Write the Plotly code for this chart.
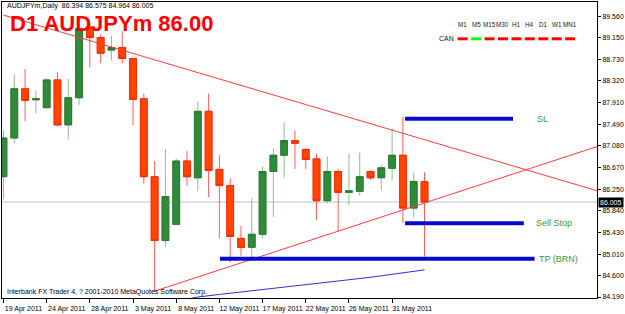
import plotly.graph_objects as go

# ---------------- data ----------------
tick_idx = [0, 4, 8, 12, 16, 20, 24, 28, 32, 36]
tick_dates = ["19 Apr 2011", "24 Apr 2011", "28 Apr 2011", "3 May 2011", "8 May 2011",
              "12 May 2011", "17 May 2011", "22 May 2011", "26 May 2011", "31 May 2011"]

bar_idx = list(range(40))
opens = [86.49, 87.23, 88.17, 87.96, 87.81, 88.34, 87.48, 88.00, 89.35, 89.15,
         88.91, 88.96, 88.75, 87.98, 86.49, 85.27, 85.58, 86.79, 86.47, 87.74,
         86.63, 86.32, 85.31, 85.14, 85.39, 86.59, 86.90, 87.18, 87.01, 86.83,
         86.03, 86.59, 86.19, 86.21, 86.59, 86.47, 86.65, 86.90, 85.89, 86.394]
highs = [87.38, 88.45, 88.55, 88.14, 88.37, 88.49, 88.36, 89.40, 89.42, 89.21,
         89.18, 89.27, 88.76, 88.08, 86.79, 87.02, 86.84, 86.98, 87.93, 88.08,
         86.90, 86.46, 85.55, 86.08, 86.69, 87.03, 87.53, 87.37, 87.04, 86.93,
         86.88, 86.63, 86.93, 86.95, 86.61, 86.72, 87.42, 87.64, 86.57, 86.575]
lows = [86.06, 87.13, 87.55, 87.70, 87.79, 87.45, 87.20, 87.86, 88.58, 88.66,
        88.71, 88.66, 87.48, 86.36, 84.30, 85.15, 85.57, 86.32, 86.21, 86.10,
        85.31, 84.86, 84.98, 84.90, 85.31, 85.72, 86.47, 86.64, 86.64, 85.66,
        85.98, 85.44, 85.95, 86.13, 86.43, 86.23, 86.42, 85.61, 85.71, 84.964]
closes = [87.23, 88.17, 87.95, 87.98, 88.34, 87.48, 88.00, 89.32, 89.15, 88.85,
          88.96, 88.75, 87.97, 86.49, 85.27, 86.11, 86.79, 86.49, 87.74, 86.61,
          86.32, 85.35, 85.14, 85.39, 86.59, 86.90, 87.18, 87.13, 86.82, 86.03,
          86.59, 86.19, 86.22, 86.49, 86.47, 86.66, 86.90, 85.89, 86.40, 86.005]

ma_idx = [17, 18, 20, 22, 24, 26, 28, 30, 32, 34, 36, 38, 39]
ma_vals = [84.15, 84.19, 84.239, 84.284, 84.332, 84.379, 84.426, 84.473, 84.52,
           84.567, 84.624, 84.681, 84.709]

price_ticks = [84.19, 84.60, 85.01, 85.43, 85.84, 86.25, 86.67, 87.08, 87.49,
               87.91, 88.32, 88.73, 89.15, 89.56]
current_price = 86.005

down_trend_idx = [0.0, 55.0]
down_trend_px = [89.58, 86.22]
up_trend_idx = [14.0, 55.0]
up_trend_px = [84.303, 87.067]

level_names = ["SL", "Sell Stop", "TP (BRN)"]
level_prices = [87.60, 85.60, 84.92]
level_start = [37.2, 37.2, 20.05]
level_end = [47.2, 48.2, 49.2]
level_label_x = [49.2, 49.1, 49.45]

tf_labels = ["M1", "M5", "M15", "M30", "H1", "H4", "D1", "W1", "MN1"]
tf_colors = ["#ff0000", "#00ff00", "#ff0000", "#ff0000", "#ff0000",
             "#ff0000", "#ff0000", "#ff0000", "#ff0000"]

info_text = "AUDJPYm,Daily  86.394 86.575 84.964 86.005"
title_text = "D1 AUDJPYm 86.00"
copyright_text = "Interbank FX Trader 4, ? 2001-2010 MetaQuotes Software Corp."

# ---------------- figure ----------------
W, H = 625, 314
ML, MR, MT, MB = 1, 26, 2, 12
PW, PH = W - ML - MR, H - MT - MB
FONT = "Liberation Sans, Arial, sans-serif"


def px_x(x):
    return (x - ML) / PW


def px_y(y):
    return 1 - (y - MT) / PH


fig = go.Figure()

# current price line
fig.add_shape(type="line", xref="paper", x0=0, x1=1, yref="y",
              y0=current_price, y1=current_price,
              line=dict(color="#c0c4c8", width=1), layer="below")

# wicks
fig.add_trace(go.Candlestick(
    x=bar_idx, open=opens, high=highs, low=lows, close=closes,
    increasing=dict(line=dict(color="#8cc08c", width=1), fillcolor="#2f8a3a"),
    decreasing=dict(line=dict(color="#ff5a5a", width=1), fillcolor="#ff4500"),
    showlegend=False, hoverinfo="skip"))
# bodies
body_hi = [max(o, c) for o, c in zip(opens, closes)]
body_lo = [min(o, c) for o, c in zip(opens, closes)]
fig.add_trace(go.Candlestick(
    x=bar_idx, open=opens, high=body_hi, low=body_lo, close=closes,
    increasing=dict(line=dict(color="#2a7a30", width=1), fillcolor="#2f8a3a"),
    decreasing=dict(line=dict(color="#ff2a00", width=1), fillcolor="#ff4500"),
    showlegend=False))

# moving average
fig.add_trace(go.Scatter(x=ma_idx, y=ma_vals, mode="lines",
                         line=dict(color="#3030c8", width=1), showlegend=False))

# trend lines
fig.add_trace(go.Scatter(x=down_trend_idx, y=down_trend_px, mode="lines",
                         line=dict(color="#ff3c3c", width=1), showlegend=False))
fig.add_trace(go.Scatter(x=up_trend_idx, y=up_trend_px, mode="lines",
                         line=dict(color="#ff3c3c", width=1), showlegend=False))

# levels
for name, p, x0, x1, lx in zip(level_names, level_prices, level_start, level_end, level_label_x):
    fig.add_trace(go.Scatter(x=[x0, x1], y=[p, p], mode="lines",
                             line=dict(color="#0a0acc", width=4), showlegend=False))
    fig.add_annotation(x=lx, y=p, xref="x", yref="y", text=name, showarrow=False,
                       xanchor="left", yanchor="middle",
                       font=dict(family=FONT, size=9, color="#3c9a3c"))

# texts
fig.add_annotation(x=px_x(4), y=px_y(6), xref="paper", yref="paper", text=info_text,
                   showarrow=False, xanchor="left", yanchor="middle",
                   font=dict(family=FONT, size=7, color="#000000"))
fig.add_annotation(x=px_x(7), y=px_y(23.5), xref="paper", yref="paper", text="<b>" + title_text + "</b>",
                   showarrow=False, xanchor="left", yanchor="middle",
                   font=dict(family=FONT, size=22, color="#ff0000"))
fig.add_annotation(x=px_x(4), y=px_y(296), xref="paper", yref="paper", text=copyright_text,
                   showarrow=False, xanchor="left", yanchor="middle",
                   font=dict(family=FONT, size=7, color="#000000"))

# timeframe panel
cx0, step = 464, 13.5
for k, (lab, col) in enumerate(zip(tf_labels, tf_colors)):
    cx = cx0 + step * k
    fig.add_annotation(x=px_x(cx), y=px_y(25), xref="paper", yref="paper", text=lab,
                       showarrow=False, xanchor="center", yanchor="middle",
                       font=dict(family=FONT, size=6.3, color="#202020"))
    fig.add_shape(type="line", xref="paper", yref="paper",
                  x0=px_x(cx - 5), x1=px_x(cx + 5), y0=px_y(39.3), y1=px_y(39.3),
                  line=dict(color=col, width=3))
fig.add_annotation(x=px_x(457), y=px_y(39.3), xref="paper", yref="paper", text="CAN",
                   showarrow=False, xanchor="right", yanchor="middle",
                   font=dict(family=FONT, size=7, color="#202020"))

# current price label
fig.add_annotation(x=1, y=current_price, xref="paper", yref="y", text="%.3f" % current_price,
                   showarrow=False, xanchor="left", yanchor="middle", xshift=1,
                   bgcolor="#000000", borderpad=1,
                   font=dict(family=FONT, size=7, color="#ffffff"))

fig.update_layout(
    width=W, height=H,
    margin=dict(l=ML, r=MR, t=MT, b=MB),
    paper_bgcolor="#ffffff", plot_bgcolor="#ffffff",
    showlegend=False,
    boxgap=0.1,
    xaxis=dict(range=[-0.138, 54.98], rangeslider=dict(visible=False),
               tickmode="array", tickvals=tick_idx, ticktext=tick_dates,
               ticks="outside", ticklen=4, tickcolor="#000000",
               tickfont=dict(family=FONT, size=7, color="#000000"),
               ticklabelshift=20,
               showgrid=False, zeroline=False,
               showline=True, linecolor="#000000", linewidth=1, mirror=True),
    yaxis=dict(range=[84.171, 89.83], side="right",
               tickmode="array", tickvals=price_ticks,
               ticktext=["%.3f" % v for v in price_ticks],
               ticks="outside", ticklen=3, tickcolor="#000000",
               tickfont=dict(family=FONT, size=7, color="#000000"),
               showgrid=False, zeroline=False,
               showline=True, linecolor="#000000", linewidth=1, mirror=True),
)

fig.write_html("out.html")
